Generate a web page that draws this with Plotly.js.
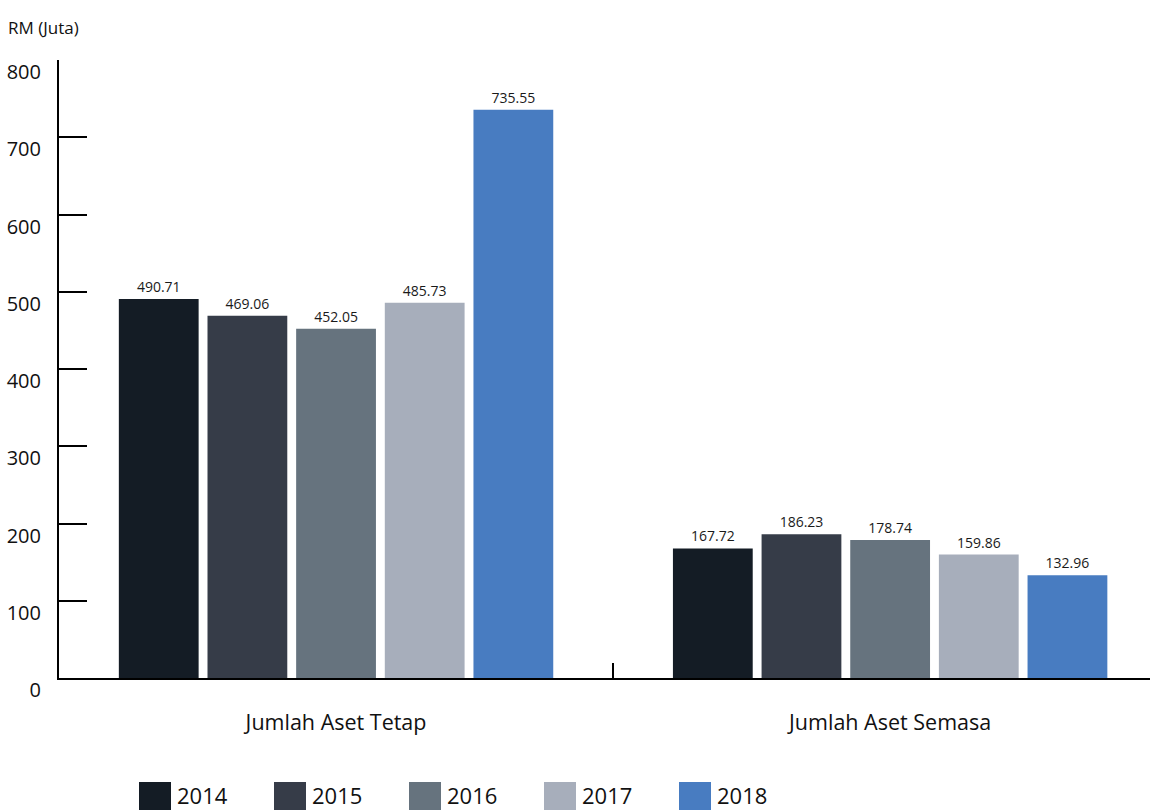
<!DOCTYPE html>
<html>
<head>
<meta charset="utf-8">
<script src="https://cdn.plot.ly/plotly-3.0.1.min.js"></script>
<style>html,body{margin:0;padding:0;background:#fff;}#chart{width:1156px;height:810px;}</style>
</head>
<body>
<div id="chart"></div>
<script>
const categories = ["Jumlah Aset Tetap", "Jumlah Aset Semasa"];
const years = ["2014", "2015", "2016", "2017", "2018"];
const values2014 = [490.71, 167.72];
const values2015 = [469.06, 186.23];
const values2016 = [452.05, 178.74];
const values2017 = [485.73, 159.86];
const values2018 = [735.55, 132.96];
const seriesValues = [values2014, values2015, values2016, values2017, values2018];
const colors = ["#141c25", "#363c48", "#66737e", "#a7aebb", "#487cc1"];
const yTicks = [0, 100, 200, 300, 400, 500, 600, 700, 800];

const FONT = "Open Sans, Noto Sans, sans-serif";

const traces = years.map((yr, i) => ({
  type: "bar",
  name: yr,
  x: categories,
  y: seriesValues[i],
  marker: { color: colors[i] },
  text: seriesValues[i].map(v => v.toFixed(2)),
  textposition: "outside",
  textfont: { family: FONT, size: 14, color: "#1a1a1a" },
  cliponaxis: false,
  hoverinfo: "x+y+name",
  showlegend: false
}));

// Plot area geometry (pixels) used to place custom legend in paper coords
const W = 1156, H = 810;
const mL = 59, mR = 6, mT = 60, mB = 132;
const pw = W - mL - mR, ph = H - mT - mB;
const px = p => (p - mL) / pw;
const py = p => (H - mB - p) / ph;

const shapes = [];
const annotations = [{
  text: "RM (Juta)", xref: "paper", yref: "paper",
  x: px(6), y: py(27), xanchor: "left", yanchor: "middle",
  showarrow: false, font: { family: FONT, size: 17, color: "#111" }
}];
years.forEach((yr, i) => {
  const x0 = 139 + i * 135;
  shapes.push({
    type: "rect", xref: "paper", yref: "paper",
    x0: px(x0), x1: px(x0 + 32), y0: py(814), y1: py(782),
    fillcolor: colors[i], line: { width: 0 }, layer: "above"
  });
  annotations.push({
    text: yr, xref: "paper", yref: "paper",
    x: px(x0 + 36), y: py(795), xanchor: "left", yanchor: "middle",
    showarrow: false, font: { family: FONT, size: 22, color: "#111" }
  });
});

const layout = {
  width: W, height: H,
  margin: { l: mL, r: mR, t: mT, b: mB },
  paper_bgcolor: "#fff", plot_bgcolor: "#fff",
  barmode: "group", bargap: 0.2, bargroupgap: 0.1,
  showlegend: false,
  font: { family: FONT, color: "#111" },
  xaxis: {
    type: "category",
    range: [-0.5, 1.469],
    showline: true, linecolor: "#000", linewidth: 2,
    ticks: "inside", tickson: "boundaries", ticklen: 15, tickwidth: 2, tickcolor: "#000",
    tickfont: { family: FONT, size: 21.5, color: "#111" },
    ticklabelstandoff: 24,
    showgrid: false, zeroline: false, fixedrange: true
  },
  yaxis: {
    range: [0, 800],
    tickvals: yTicks,
    ticktext: yTicks.map(String),
    showline: true, linecolor: "#000", linewidth: 2,
    ticks: "inside", ticklen: 28, tickwidth: 2, tickcolor: "#000",
    tickfont: { family: FONT, size: 20, color: "#111" },
    ticklabelstandoff: 12,
    ticklabelshift: 12,
    showgrid: false, zeroline: false, fixedrange: true
  },
  shapes: shapes,
  annotations: annotations
};

Plotly.newPlot("chart", traces, layout, { displayModeBar: false, staticPlot: true });
</script>
</body>
</html>
